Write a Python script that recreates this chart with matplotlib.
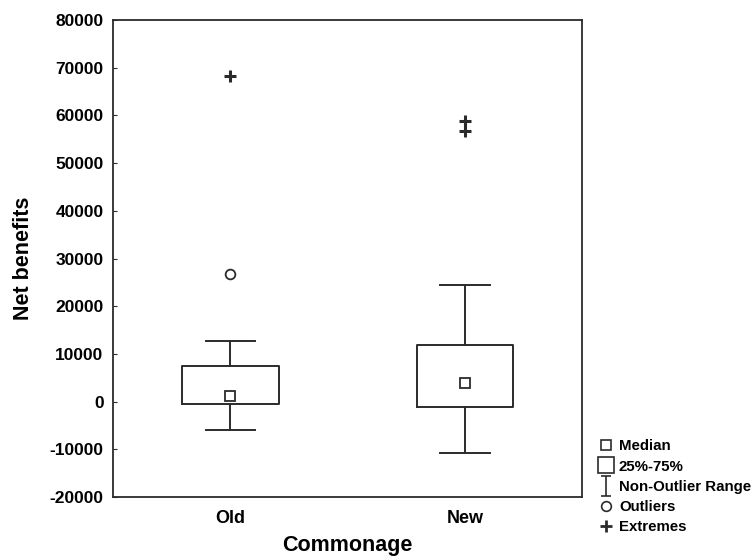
import matplotlib.pyplot as plt
from matplotlib.lines import Line2D
from matplotlib.path import Path

plt.rcParams['font.family'] = ['Liberation Sans', 'DejaVu Sans']

# data
groups = ["Old", "New"]
medians = [1200, 3900]
q1 = [-500, -1100]
q3 = [7500, 11900]
whis_lo = [-6000, -10800]
whis_hi = [12700, 24500]
outliers = [[26700], []]
extremes = [[68200], [58800, 56800]]

yticks = list(range(-20000, 80001, 10000))

ink = '#2b2b2b'

fig = plt.figure(figsize=(7.55, 5.56), dpi=100)
ax = fig.add_axes([0.150, 0.106, 0.621, 0.858])

stats = []
for i, g in enumerate(groups):
    stats.append({'label': g, 'med': medians[i], 'q1': q1[i], 'q3': q3[i],
                  'whislo': whis_lo[i], 'whishi': whis_hi[i], 'fliers': []})

pos = list(range(len(groups)))
ax.bxp(stats, positions=pos, widths=0.41, showfliers=False,
       boxprops=dict(color=ink, linewidth=1.4),
       whiskerprops=dict(color=ink, linewidth=1.4),
       capprops=dict(color=ink, linewidth=1.4),
       medianprops=dict(linewidth=0), capwidths=0.21)

ax.plot(pos, medians, linestyle='none', marker='s', markersize=7,
        markerfacecolor='white', markeredgecolor=ink, markeredgewidth=1.3)
for i in pos:
    if outliers[i]:
        ax.plot([i] * len(outliers[i]), outliers[i], linestyle='none', marker='o',
                markersize=7, markerfacecolor='white', markeredgecolor=ink, markeredgewidth=1.3)
    if extremes[i]:
        ax.plot([i] * len(extremes[i]), extremes[i], linestyle='none', marker='+',
                markersize=8, markeredgecolor=ink, markeredgewidth=2.2)

ax.set_xlim(-0.5, 1.5)
ax.set_ylim(-20000, 80000)
ax.set_yticks(yticks)
ax.set_yticklabels([str(t) for t in yticks], fontweight='bold', fontsize=12.5)
ax.set_xticks(pos)
ax.set_xticklabels(groups, fontweight='bold', fontsize=13)
ax.tick_params(axis='y', direction='in', length=3, color=ink, pad=7)
ax.tick_params(axis='x', length=0, pad=9)
for s in ax.spines.values():
    s.set_color(ink)
    s.set_linewidth(1.3)

ax.set_ylabel("Net benefits", fontweight='bold', fontsize=15.5, labelpad=11)
ax.set_xlabel("Commonage", fontweight='bold', fontsize=15.5, labelpad=6)

# legend with an I-beam marker for the whisker range
ibeam = Path([(-0.5, 1), (0.5, 1), (0, 1), (0, -1), (-0.5, -1), (0.5, -1)],
             [Path.MOVETO, Path.LINETO, Path.MOVETO, Path.LINETO, Path.MOVETO, Path.LINETO])
handles = [
    Line2D([], [], linestyle='none', marker='s', markersize=7, markerfacecolor='white',
           markeredgecolor=ink, markeredgewidth=1.2),
    Line2D([], [], linestyle='none', marker='s', markersize=12, markerfacecolor='white',
           markeredgecolor=ink, markeredgewidth=1.2),
    Line2D([], [], linestyle='none', marker=ibeam, markersize=14, markeredgecolor=ink,
           markeredgewidth=1.2),
    Line2D([], [], linestyle='none', marker='o', markersize=7, markerfacecolor='white',
           markeredgecolor=ink, markeredgewidth=1.2),
    Line2D([], [], linestyle='none', marker='+', markersize=8, markeredgecolor=ink,
           markeredgewidth=2),
]
labels = ["Median", "25%-75%", "Non-Outlier Range", "Outliers", "Extremes"]
fig.legend(handles, labels, loc='upper left', bbox_to_anchor=(0.795, 0.21),
           frameon=False, handlelength=0.8, handletextpad=0.45, labelspacing=0.42,
           borderpad=0, borderaxespad=0, prop=dict(weight='bold', size=10.8))

fig.savefig('out.png', dpi=100)
